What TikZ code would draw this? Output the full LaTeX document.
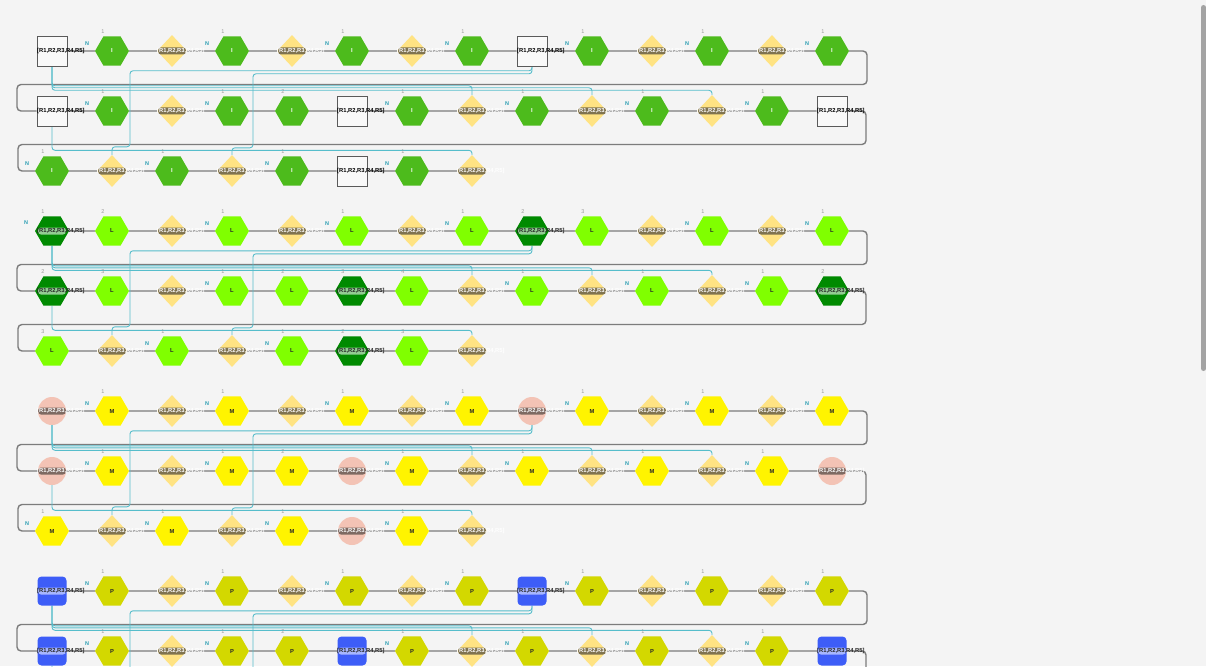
\documentclass[tikz,border=0pt]{standalone}
\usepackage{fontspec}
\setmainfont{Liberation Sans}
\usetikzlibrary{shapes.geometric,backgrounds}
\definecolor{pagebg}{HTML}{F4F4F4}
\definecolor{hexI}{HTML}{4DBB1C}
\definecolor{hexL}{HTML}{80FF00}
\definecolor{hexM}{HTML}{FFF400}
\definecolor{hexP}{HTML}{D3D800}
\definecolor{darkhex}{HTML}{008A00}
\definecolor{darkpill}{HTML}{93CC93}
\definecolor{pinkfill}{HTML}{F3C3B5}
\definecolor{pinkpill}{HTML}{7E6A62}
\definecolor{bluefill}{HTML}{3D5DF7}
\definecolor{bluepill}{HTML}{A6B6FF}
\definecolor{dmndfill}{HTML}{FFE383}
\definecolor{dmndpill}{HTML}{7F7350}
\definecolor{sqfill}{HTML}{F9F9F9}
\definecolor{sqdraw}{HTML}{5A5A5A}
\definecolor{bbgrey}{HTML}{7C7C7C}
\definecolor{xteal}{HTML}{56BDCB}
\definecolor{nteal}{HTML}{2B9EB3}
\definecolor{numgrey}{HTML}{9A9A9A}
\definecolor{scrollgrey}{HTML}{A3A3A3}
\newcount\pepno
% one row of monomers: #1 row, #2 y, #3 types (S special, H hexagon, D diamond)
\newcommand\seqrow[3]{%
  \ifnum#1>\maxrow\relax\def\showtxt{0}\else\def\showtxt{1}\fi
  \foreach \t [count=\i] in {#3}{%
    \pgfmathsetmacro\xx{60*\i-8}%
    \if\t D%
      \node[dmnd] (\blk-#1-\i) at (\xx,#2) {};
      \node[pill,fill=dmndpill] (\blk-#1-\i-p) at (\xx,#2) {};
      \ifnum\showtxt=1
        \node[rtext,text=white] (\blk-#1-\i-t) at (\xx-15,#2) {[R1,R2,R3,R4,R5]};
      \fi
      \global\pepno=0
    \fi
    \if\t H%
      \global\advance\pepno by 1
      \node[hexnode] (\blk-#1-\i) at (\xx,#2) {\ifnum\showtxt=1 \hexletter\fi};
      \ifnum\showtxt=1
        \node[numlbl] (\blk-#1-\i-k) at (\xx-9,#2-19) {\the\pepno};
        \ifnum\pepno=1 \node[nlbl] (\blk-#1-\i-n) at (\xx-25,#2-7) {N};\fi
      \fi
    \fi
    \if\t S%
      \node[spec] (\blk-#1-\i) at (\xx,#2) {};
      \node[specpill] (\blk-#1-\i-p) at (\xx,#2) {};
      \ifnum\showtxt=1
        \node[rtext,spectext] (\blk-#1-\i-t) at (\xx-15,#2) {[R1,R2,R3,R4,R5]};
      \fi
      \ifnum\specpep=1
        \global\advance\pepno by 1
        \node[numlbl] (\blk-#1-\i-k) at (\xx-9,#2-19) {\the\pepno};
        \ifnum\pepno=1 \node[nlbl] (\blk-#1-\i-n) at (\xx-26,#2-8) {N};\fi
      \else
        \global\pepno=0
      \fi
    \fi
  }%
}
% a block of three rows with backbone and cross links
\newcommand\seqblock{%
  \global\pepno=0
  \seqrow{1}{51}{S,H,D,H,D,H,D,H,S,H,D,H,D,H}
  \seqrow{2}{111}{S,H,D,H,H,S,H,D,H,D,H,D,H,S}
  \seqrow{3}{171}{H,D,H,D,H,S,H,D}
  \coordinate (\blk-e1) at (867,84.5);
  \coordinate (\blk-w1) at (17,84.5);
  \coordinate (\blk-e2) at (866,144.5);
  \coordinate (\blk-w2) at (18,144.5);
  \begin{pgfonlayer}{background}
    \foreach \i [remember=\i as \j (initially 1)] in {2,...,14}{
      \draw[bb] (\blk-1-\j) -- (\blk-1-\i);
      \draw[bb] (\blk-2-\j) -- (\blk-2-\i);
    }
    \foreach \i [remember=\i as \j (initially 1)] in {2,...,8}
      \draw[bb] (\blk-3-\j) -- (\blk-3-\i);
    \draw[bb] (\blk-1-14) -| (\blk-e1) -- (\blk-w1) |- (\blk-2-1);
    \draw[bb] (\blk-2-14) -| (\blk-e2) -- (\blk-w2) |- (\blk-3-1);
    \draw[xlink] (\blk-1-1.south) |- ([yshift=9pt]\blk-2-8.north) -- (\blk-2-8.north);
    \draw[xlink] (\blk-1-1.south) |- ([yshift=7pt]\blk-2-10.north) -- (\blk-2-10.north);
    \draw[xlink] (\blk-1-1.south) |- ([yshift=4.5pt]\blk-2-12.north) -- (\blk-2-12.north);
    \draw[xlink] (\blk-1-9.south) |- ([xshift=18pt,yshift=84pt]\blk-3-2.north) |- ([yshift=8pt]\blk-3-2.north) -- (\blk-3-2.north);
    \draw[xlink] (\blk-1-9.south) |- ([xshift=21pt,yshift=81pt]\blk-3-4.north) |- ([yshift=7pt]\blk-3-4.north) -- (\blk-3-4.north);
    \draw[xlink] (\blk-2-1.south) |- ([yshift=4.5pt]\blk-3-8.north) -- (\blk-3-8.north);
  \end{pgfonlayer}
}

\begin{document}
\begin{tikzpicture}[x=1pt,y=-1pt,
  every node/.style={font=\fontsize{5.8}{6}\selectfont\bfseries,inner sep=0pt},
  hx/.style={regular polygon,regular polygon sides=6,minimum size=34pt},
  dmnd/.style={diamond,fill=dmndfill,minimum width=30pt,minimum height=32pt},
  pill/.style={rounded corners=3pt,minimum width=28pt,minimum height=7pt},
  rtext/.style={anchor=west},
  numlbl/.style={text=numgrey,font=\fontsize{5.5}{6}\selectfont},
  nlbl/.style={text=nteal,font=\fontsize{5.5}{6}\selectfont\bfseries},
  bb/.style={draw=bbgrey,line width=1.4pt,rounded corners=4pt},
  xlink/.style={draw=xteal,line width=0.9pt,rounded corners=3pt}]
\useasboundingbox (0,0) rectangle (1206,666);
\begin{pgfonlayer}{background}
  \fill[pagebg] (0,0) rectangle (1206,666);
\end{pgfonlayer}
\def\maxrow{3}

\begin{scope}[hexnode/.style={hx,fill=hexI,text=white},
  spec/.style={draw=sqdraw,fill=sqfill,minimum size=30pt,line width=0.6pt},
  specpill/.style={pill},spectext/.style={text=black}]
  \def\blk{I}\def\hexletter{I}\def\specpep{0}
  \seqblock
\end{scope}

\begin{scope}[yshift=-180pt,hexnode/.style={hx,fill=hexL,text=black!85},
  spec/.style={hx,fill=darkhex},
  specpill/.style={pill,fill=darkpill},spectext/.style={text=black!85}]
  \def\blk{L}\def\hexletter{L}\def\specpep{1}
  \seqblock
\end{scope}

\begin{scope}[yshift=-360pt,hexnode/.style={hx,fill=hexM,text=black!85},
  spec/.style={circle,fill=pinkfill,minimum size=28pt},
  specpill/.style={pill,fill=pinkpill},spectext/.style={text=white}]
  \def\blk{M}\def\hexletter{M}\def\specpep{0}
  \seqblock
\end{scope}

% last block runs off the bottom edge: its third row carries no text
\begin{scope}[yshift=-540pt,hexnode/.style={hx,fill=hexP,text=black!85},
  spec/.style={rounded corners=4pt,fill=bluefill,minimum size=29pt},
  specpill/.style={pill,fill=bluepill},spectext/.style={text=black!85}]
  \def\blk{P}\def\hexletter{P}\def\specpep{0}\def\maxrow{2}
  \seqblock
\end{scope}

% scroll bar
\fill[scrollgrey,rounded corners=2.5pt] (1201,5) rectangle (1206,371);
\end{tikzpicture}
\end{document}
